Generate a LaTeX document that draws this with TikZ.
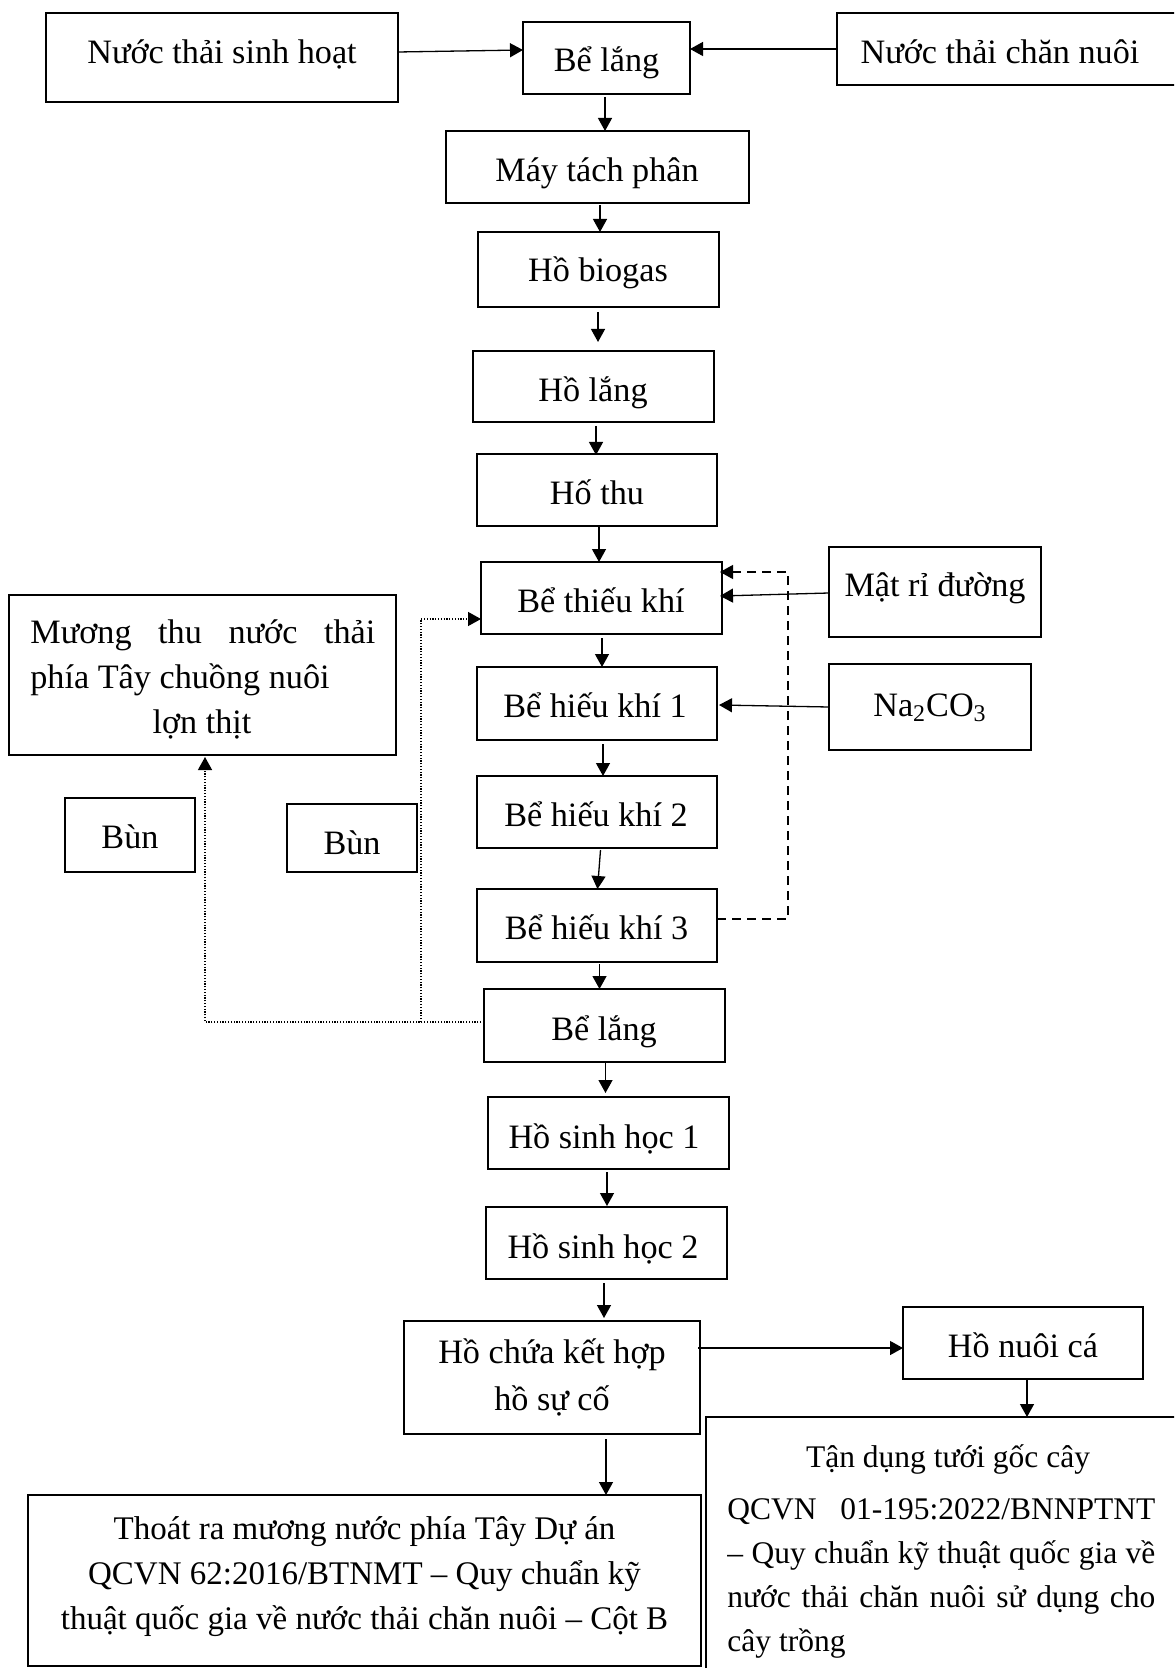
\documentclass[tikz,border=0pt]{standalone}
\usepackage{fontspec}
\setmainfont{Liberation Serif}
\usetikzlibrary{arrows.meta,fit}
\newcommand\myfA{\fontsize{17.1pt}{22.5pt}\selectfont}
\newcommand\myfB{\fontsize{16.5pt}{22pt}\selectfont}
\newcommand\myfC{\fontsize{15.75pt}{21.75pt}\selectfont}
\begin{document}
\begin{tikzpicture}[x=0.5pt,y=-0.5pt,
  box/.style={draw, line width=0.9pt, inner sep=0pt, outer sep=0pt},
  lbl/.style={font=\myfA, inner sep=0pt, text height=12pt, text depth=1pt},
  ln/.style={inner sep=0pt, anchor=base},
  arr/.style={line width=0.65pt, -{Triangle[length=6.5pt,width=7pt]}},
  dsh/.style={line width=0.8pt, dash pattern=on 4.5pt off 3pt},
  dot/.style={line width=0.6pt, dash pattern=on 0.6pt off 0.8pt}]
\useasboundingbox (0,0) rectangle (1174,1668);
\clip (0,0) rectangle (1174,1668);

% boxes
\node[box, fit={(46,13) (398,102)}] (nts) {};
\node[box, fit={(523,22) (690,94)}] (bl1) {};
\node[box, fit={(837,13) (1190,85)}] (ntcn) {};
\node[box, fit={(446,131) (749,203)}] (mtp) {};
\node[box, fit={(478,232) (719,307)}] (hbg) {};
\node[box, fit={(473,351) (714,422)}] (hl) {};
\node[box, fit={(477,454) (717,526)}] (ht) {};
\node[box, fit={(481,562) (722,634)}] (btk) {};
\node[box, fit={(829,547) (1041,637)}] (mrd) {};
\node[box, fit={(9,595) (396,755)}] (mtn) {};
\node[box, fit={(477,667) (717,740)}] (bhk1) {};
\node[box, fit={(829,664) (1031,750)}] (na) {};
\node[box, fit={(65,798) (195,872)}] (bun1) {};
\node[box, fit={(287,804) (417,872)}] (bun2) {};
\node[box, fit={(477,776) (717,848)}] (bhk2) {};
\node[box, fit={(477,889) (717,962)}] (bhk3) {};
\node[box, fit={(484,989) (725,1062)}] (bl2) {};
\node[box, fit={(488,1097) (729,1169)}] (hsh1) {};
\node[box, fit={(486,1207) (727,1279)}] (hsh2) {};
\node[box, fit={(404,1321) (700,1434)}] (hc) {};
\node[box, fit={(903,1307) (1143,1379)}] (hnc) {};
\node[box, fit={(706,1417) (1190,1690)}] (td) {};
\node[box, fit={(28,1495) (701,1666)}] (thoat) {};

% single-line texts
\node[lbl] (nts-t) at (222,53) {Nước thải sinh hoạt};
\node[lbl] (bl1-t) at (606.5,61) {Bể lắng};
\node[lbl] (ntcn-t) at (1000,53) {Nước thải chăn nuôi};
\node[lbl] (mtp-t) at (597,171) {Máy tách phân};
\node[lbl] (hbg-t) at (598,271) {Hồ biogas};
\node[lbl] (hl-t) at (593,390) {Hồ lắng};
\node[lbl] (ht-t) at (597,493) {Hố thu};
\node[lbl] (btk-t) at (601,601) {Bể thiếu khí};
\node[lbl] (mrd-t) at (935,585) {Mật rỉ đường};
\node[lbl] (bhk1-t) at (595,706) {Bể hiếu khí 1};
\node[lbl] (na-t) at (930,705) {Na\textsubscript{2}CO\textsubscript{3}};
\node[lbl] (bun1-t) at (130,837) {Bùn};
\node[lbl] (bun2-t) at (352,843) {Bùn};
\node[lbl] (bhk2-t) at (596,815) {Bể hiếu khí 2};
\node[lbl] (bhk3-t) at (596.5,928) {Bể hiếu khí 3};
\node[lbl] (bl2-t) at (604,1029) {Bể lắng};
\node[lbl] (hsh1-t) at (604,1137) {Hồ sinh học 1};
\node[lbl] (hsh2-t) at (603,1247) {Hồ sinh học 2};
\node[lbl] (hnc-t) at (1023,1346) {Hồ nuôi cá};

% multi-line texts
\node[ln, anchor=base west, font=\myfA] (mtn-1) at (30,643) {\makebox[172.5pt][s]{Mương thu nước thải}};
\node[ln, anchor=base west, font=\myfA] (mtn-2) at (30,688) {phía Tây chuồng nuôi};
\node[ln, font=\myfA] (mtn-3) at (202,733) {lợn thịt};
\node[ln, font=\myfA] (hc-1) at (552,1363) {Hồ chứa kết hợp};
\node[ln, font=\myfA] (hc-2) at (552,1410) {hồ sự cố};
\node[ln, font=\myfB] (th-1) at (364.5,1539) {Thoát ra mương nước phía Tây Dự án};
\node[ln, font=\myfB] (th-2) at (364.5,1584) {QCVN 62:2016/BTNMT – Quy chuẩn kỹ};
\node[ln, font=\myfB] (th-3) at (364.5,1629) {thuật quốc gia về nước thải chăn nuôi – Cột B};
\node[ln, font=\myfC] (td-1) at (948,1467) {Tận dụng tưới gốc cây};
\node[ln, anchor=base west, font=\myfC] (td-2) at (727,1519) {\makebox[214pt][s]{QCVN 01-195:2022/BNNPTNT}};
\node[ln, anchor=base west, font=\myfC] (td-3) at (727,1563) {\makebox[214pt][s]{– Quy chuẩn kỹ thuật quốc gia về}};
\node[ln, anchor=base west, font=\myfC] (td-4) at (727,1607) {\makebox[214pt][s]{nước thải chăn nuôi sử dụng cho}};
\node[ln, anchor=base west, font=\myfC] (td-5) at (727,1651) {cây trồng};

% connectors
\draw[arr] ([shift={(0,-5.5)}]nts.east) -- ([shift={(0,-8)}]bl1.west);
\draw[arr] (ntcn.west) -- ([shift={(0,-9)}]bl1.east);
\draw[arr] ([shift={(-1.5,3)}]bl1.south) -- ([shift={(7.5,0)}]mtp.north);
\draw[arr] ([shift={(2.5,2)}]mtp.south) -- ([shift={(1.5,0)}]hbg.north);
\draw[arr] ([shift={(-0.5,5)}]hbg.south) -- ([shift={(4.5,-9)}]hl.north);
\draw[arr] ([shift={(2.5,4)}]hl.south) -- ([shift={(-1,1)}]ht.north);
\draw[arr] ([shift={(2,0)}]ht.south) -- ([shift={(-2.5,0)}]btk.north);
\draw[arr] ([shift={(0.5,4)}]btk.south) -- ([shift={(5,0)}]bhk1.north);
\draw[arr] ([shift={(6,4)}]bhk1.south) -- ([shift={(6,0)}]bhk2.north);
\draw[arr] ([shift={(3.5,2)}]bhk2.south) -- ([shift={(0.5,0)}]bhk3.north);
\draw[arr] ([shift={(2.5,2)}]bhk3.south) -- ([shift={(-5,0)}]bl2.north);
\draw[arr] ([shift={(1,1)}]bl2.south) -- ([shift={(-3,-4)}]hsh1.north);
\draw[arr] ([shift={(-1.5,3)}]hsh1.south) -- ([shift={(0.5,-1)}]hsh2.north);
\draw[arr] ([shift={(-2.5,4)}]hsh2.south) -- ([shift={(52,-3)}]hc.north);
\draw[arr] ([shift={(54,5)}]hc.south) -- ([shift={(241.5,0)}]thoat.north);
\draw[arr] ([shift={(-2,-29.5)}]hc.east) -- ([shift={(0,5)}]hnc.west);
\draw[arr] ([shift={(4,0)}]hnc.south) -- ([shift={(79,0)}]td.north);
\draw[arr] ([shift={(0,1)}]mrd.west) -- ([shift={(-2,-2)}]btk.east);
\draw[arr] (na.west) -- ([shift={(2,1.5)}]bhk1.east);

% dashed return
\coordinate (d2) at (788,572);
\draw[dsh, arr] ([shift={(0,-6.5)}]bhk3.east) -| (d2) -- ([shift={(-2,-26)}]btk.east);

% dotted sludge lines
\coordinate (j1) at (421,1022);
\draw[dot, arr] ([shift={(0,-3.5)}]bl2.west) -| ([shift={(2.5,2)}]mtn.south);
\draw[dot, arr] (j1) |- ([shift={(0,21)}]btk.west);
\end{tikzpicture}
\end{document}
